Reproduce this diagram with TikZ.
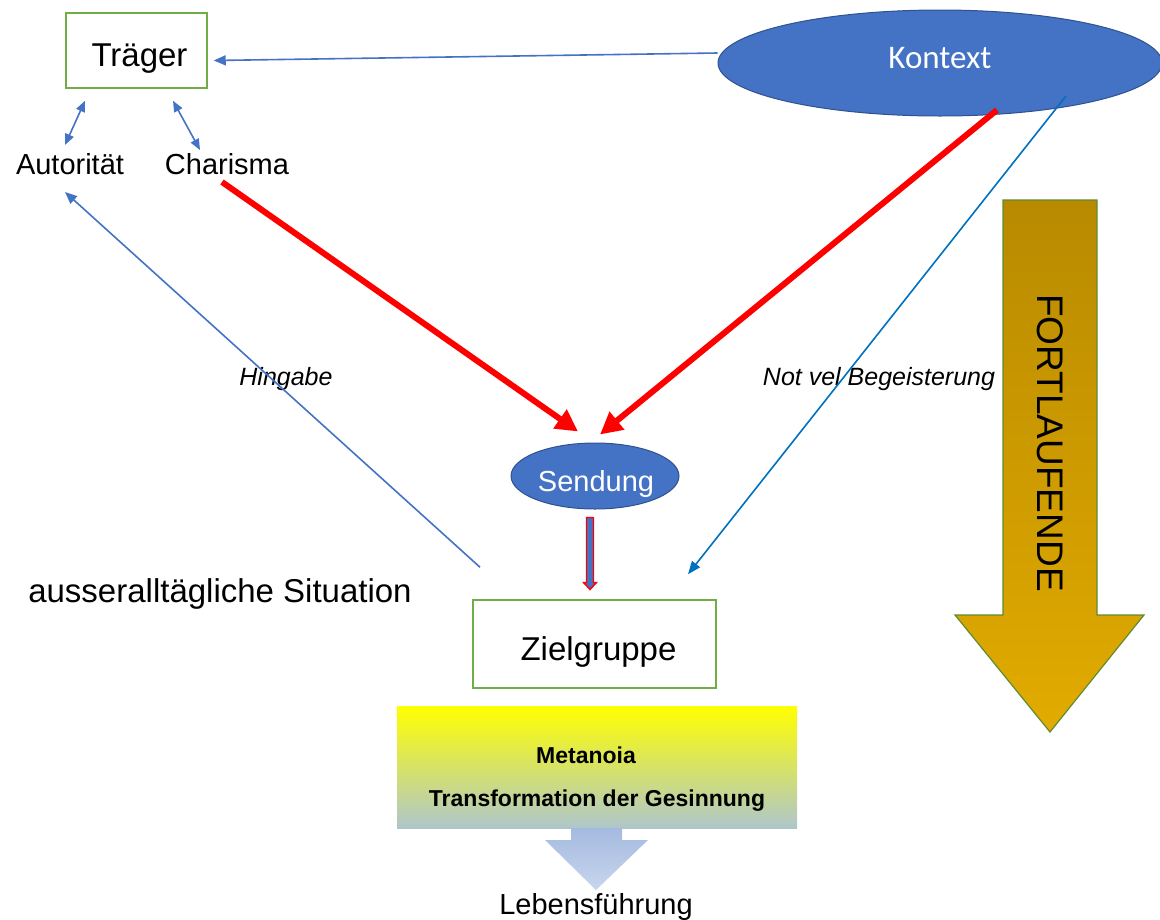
\documentclass[tikz,border=0pt]{standalone}
\usepackage{fontspec}
\setmainfont{Liberation Sans}
\newfontfamily\calib{Carlito}
\usetikzlibrary{shapes.geometric,arrows.meta,calc}
\definecolor{kblue}{HTML}{4472C4}
\definecolor{kborder}{HTML}{2F528F}
\definecolor{lblue}{HTML}{0070C0}
\definecolor{kgreen}{HTML}{70AD47}
\definecolor{ogreen}{HTML}{5E8C31}
\definecolor{gold1}{HTML}{B88A00}
\definecolor{gold2}{HTML}{E2AB00}
\definecolor{grayblue}{HTML}{AFC6CC}
\definecolor{ab1}{HTML}{A4BADF}
\definecolor{ab2}{HTML}{C8D6EE}
\newcommand{\fs}[1]{\fontsize{#1}{#1}\selectfont}
\tikzset{
  greenbox/.style={draw=kgreen, line width=1.5pt, fill=white, inner sep=0pt},
  blueell/.style={ellipse, draw=kborder, line width=1pt, fill=kblue, text=white, inner sep=0pt},
  plain/.style={inner sep=0pt, text=black},
  thinarrow/.style={draw=kblue, line width=1.6pt, -{Triangle[length=12pt,width=10pt]}},
  thindouble/.style={draw=kblue, line width=1.6pt, {Triangle[length=11pt,width=9pt]}-{Triangle[length=11pt,width=9pt]}},
  redarrow/.style={draw=red, line width=6pt, -{Triangle[length=22pt,width=22pt]}},
  lbluearrow/.style={draw=lblue, line width=1.6pt, -{Triangle[length=13pt,width=10pt]}},
}
\begin{document}
\begin{tikzpicture}[x=1pt,y=-1pt]
\useasboundingbox (0,0) rectangle (1160,919);

% nodes
\node[greenbox, minimum width=141pt, minimum height=75pt] (traeger) at (136.5,50.5) {};
\node[plain] (traegertxt) at (139.5,59) {\fs{33}Träger};
\node[plain] (autor) at (70,164) {\fs{29}Autorität};
\node[plain] (charisma) at (227,164) {\fs{29}Charisma};
\node[blueell, minimum width=444pt, minimum height=106pt] (kontext) at (940,63) {};
\node[plain, text=white] (kontexttxt) at (940,58) {\calib\fs{33}Kontext};
\node[blueell, minimum width=168pt, minimum height=66pt] (sendung) at (595,476) {};
\node[plain, text=white] (sendungtxt) at (596,484) {\fs{29}Sendung};
\node[greenbox, minimum width=243pt, minimum height=88pt] (ziel) at (594.5,644) {};
\node[plain] (zieltxt) at (598.5,652) {\fs{33}Zielgruppe};
\node[plain] (situation) at (220,594) {\fs{33}ausseralltägliche Situation};
\node[plain] (hingabe) at (286,379) {\fs{25}\itshape Hingabe};
\node[plain] (notvel) at (879,379) {\fs{25}\itshape Not vel Begeisterung};

% gradient box
\node[top color=yellow, bottom color=grayblue, minimum width=400pt, minimum height=122pt, inner sep=0pt] (meta) at (597,767) {};
\node[plain] (metanoia) at (586,755) {\fs{23}\bfseries Metanoia};
\node[plain] (trans) at (597,801) {\fs{23}\bfseries Transformation der Gesinnung};
\node[plain] (leben) at (596,907) {\fs{29}Lebensführung};

% arrow below gradient box
\path[top color=ab1, bottom color=ab2] (571,828) -- (622,828) -- (622,840) -- (648,840) -- (596,890) -- (545,840) -- (571,840) -- cycle;

% FORTLAUFENDE arrow
\path[top color=gold1, bottom color=gold2, draw=ogreen, line width=1.2pt]
  (1003,200) -- (1097,200) -- (1097,615) -- (1144,615) -- (1050,732) -- (955,615) -- (1003,615) -- cycle;
\node[plain, rotate=-90] (fort) at (1050,443) {\fs{37}FORTLAUFENDE};

% connectors
\draw[thinarrow] ([yshift=10pt]kontext.west) -- ([xshift=6pt,yshift=-10pt]traeger.east);
\draw[thindouble] ([xshift=-51.5pt,yshift=-12pt]traeger.south) -- ([xshift=-5pt,yshift=19pt]autor.center);
\draw[thindouble] ([xshift=36.5pt,yshift=-12pt]traeger.south) -- ([xshift=-27pt,yshift=14pt]charisma.center);
\draw[redarrow] ([xshift=-5pt,yshift=-18pt]charisma.center) -- ([xshift=-17pt,yshift=11pt]sendung.north);
\draw[redarrow] ([xshift=57pt,yshift=-47pt]kontext.center) -- ([xshift=5pt,yshift=8pt]sendung.north);
\draw[lbluearrow] ([xshift=126pt,yshift=-33pt]kontext.center) -- ([xshift=93.5pt,yshift=25pt]ziel.north);
\draw[thinarrow] ([xshift=-114.5pt,yshift=32pt]ziel.north) -- ([xshift=-5pt,yshift=-28pt]autor.center);

% Sendung -> Zielgruppe block arrow
\begin{scope}[shift={(sendung.south)}]
\draw[red, line width=1.4pt, fill=kblue] (-8.5,8) -- (-1.5,8) -- (-1.5,73) -- (1.5,73) -- (-5,80) -- (-11.5,73) -- (-8.5,73) -- cycle;
\end{scope}
\end{tikzpicture}
\end{document}
